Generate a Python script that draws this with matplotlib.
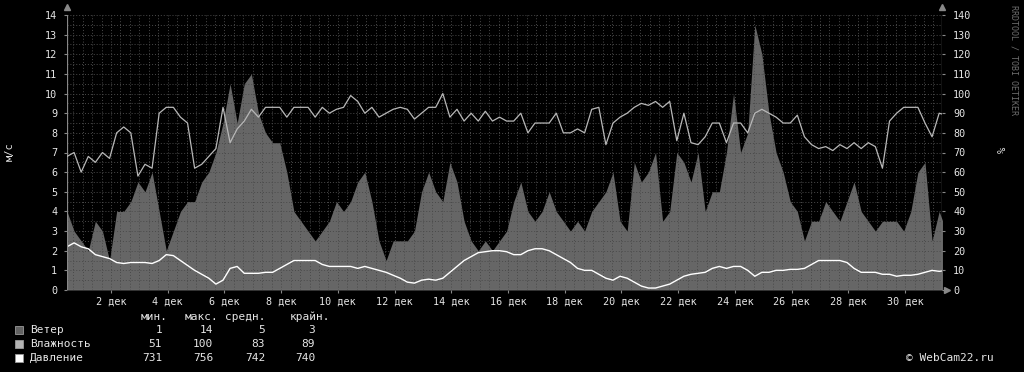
import numpy as np
import matplotlib.pyplot as plt
from matplotlib.ticker import MultipleLocator, FixedLocator
from matplotlib.patches import Rectangle

# time axis: days of December, one sample every 6 hours
start_day = 0.45
step_days = 0.25

# wind, m/s
wind = [4, 3, 2.5, 2, 3.5, 3, 1.5, 4, 4, 4.5,
        5.5, 5, 6, 4, 2, 3, 4, 4.5, 4.5, 5.5,
        6, 7, 8.5, 10.5, 8.5, 10.5, 11, 9, 8, 7.5,
        7.5, 6, 4, 3.5, 3, 2.5, 3, 3.5, 4.5, 4,
        4.5, 5.5, 6, 4.5, 2.5, 1.5, 2.5, 2.5, 2.5, 3,
        5, 6, 5, 4.5, 6.5, 5.5, 3.5, 2.5, 2, 2.5,
        2, 2.5, 3, 4.5, 5.5, 4, 3.5, 4, 5, 4,
        3.5, 3, 3.5, 3, 4, 4.5, 5, 6, 3.5, 3,
        6.5, 5.5, 6, 7, 3.5, 4, 7, 6.5, 5.5, 7,
        4, 5, 5, 7, 10, 7, 8, 13.5, 12, 9,
        7, 6, 4.5, 4, 2.5, 3.5, 3.5, 4.5, 4, 3.5,
        4.5, 5.5, 4, 3.5, 3, 3.5, 3.5, 3.5, 3, 4,
        6, 6.5, 2.5, 4, 3]

# relative humidity, %
humidity = [68, 70, 60, 68, 65, 70, 67, 80, 83, 80,
            58, 64, 62, 90, 93, 93, 88, 85, 62, 64,
            68, 72, 93, 75, 82, 86, 92, 88, 93, 93,
            93, 88, 93, 93, 93, 88, 93, 90, 92, 93,
            99, 96, 90, 93, 88, 90, 92, 93, 92, 87,
            90, 93, 93, 100, 88, 92, 86, 90, 86, 91,
            86, 88, 86, 86, 90, 80, 85, 85, 85, 90,
            80, 80, 82, 80, 92, 93, 74, 85, 88, 90,
            93, 95, 94, 96, 93, 96, 76, 90, 75, 74,
            78, 85, 85, 75, 85, 85, 80, 90, 92, 90,
            88, 85, 85, 89, 78, 74, 72, 73, 71, 74,
            72, 75, 72, 75, 73, 62, 86, 90, 93, 93,
            93, 85, 78, 90, 89]

# pressure, mm Hg
pressure = [752, 754, 752, 751, 748, 747, 746, 744, 743.5, 744,
            744, 744, 743.5, 745, 748, 747.5, 745, 742.5, 740, 738,
            736, 733, 735, 741, 742, 738.5, 738.5, 738.5, 739, 739,
            741, 743, 745, 745, 745, 745, 743, 742, 742, 742,
            742, 741, 742, 741, 740, 739, 737.5, 736, 734, 733.5,
            735, 735.5, 735, 736, 739, 742, 745, 747, 749, 749.5,
            750, 750, 749.5, 748, 748, 750, 751, 751, 750, 748,
            746, 744, 741, 740, 740, 738, 736, 735, 737, 736,
            734, 732, 731, 731, 732, 733, 735, 737, 738, 738.5,
            739, 741, 742, 741, 742, 742, 740, 737, 739, 739,
            740, 740, 740.5, 740.5, 741, 743, 745, 745, 745, 745,
            744, 741, 739, 739, 739, 738, 738, 737, 737.5, 737.5,
            738, 739, 740, 739.5, 740]

x_labels = [f"{d} дек" for d in range(2, 31, 2)]

legend_names = ["Ветер", "Влажность", "Давление"]
legend_colors = ["#626262", "#b4b4b4", "#ffffff"]
legend_header = ["мин.", "макс.", "средн.", "крайн."]
legend_values = [["1", "14", "5", "3"],
                 ["51", "100", "83", "89"],
                 ["731", "756", "742", "740"]]

W, H = 1024, 372
mono = "DejaVu Sans Mono"
plt.rcParams['font.family'] = mono

days = start_day + step_days * np.arange(len(wind))

fig = plt.figure(figsize=(W / 100, H / 100), dpi=100, facecolor="black")
ax = fig.add_axes([67 / W, 82 / H, 875 / W, 275 / H])
ax.set_facecolor("black")
ax.set_xlim(0.45, 31.3)
ax.set_ylim(0, 14)

ax.fill_between(days, wind, color="#666666", lw=0, zorder=1)

# grid on top of the area
ax.set_axisbelow(False)
ax.yaxis.set_major_locator(MultipleLocator(1))
ax.yaxis.set_minor_locator(MultipleLocator(0.5))
ax.xaxis.set_major_locator(FixedLocator(list(range(2, 31, 2))))
ax.xaxis.set_minor_locator(MultipleLocator(1 / 3))
ax.grid(which="both", color="#4a4a4a", linestyle=(0, (1, 2)), lw=0.7)
ax.set_xticklabels(x_labels)

ax2 = ax.twinx()
ax2.set_ylim(0, 140)
ax2.yaxis.set_major_locator(MultipleLocator(10))
ax2.plot(days, humidity, color="#b8b8b8", lw=0.9, zorder=3)
ax.plot(days, [(p - 730) / 10 for p in pressure], color="white", lw=1.0, zorder=4)

for a in (ax, ax2):
    for s in a.spines.values():
        s.set_visible(False)
    a.tick_params(colors="#888888", labelcolor="#e6e6e6", labelsize=7.3,
                  length=2, width=0.8, which="major")
    a.tick_params(which="minor", length=0)
ax.tick_params(axis="y", pad=5)
ax.tick_params(axis="x", pad=3)
ax2.tick_params(axis="y", pad=6)

# axis lines with arrowheads
ax.axvline(ax.get_xlim()[0], color="#888888", lw=0.9, zorder=5)
ax.axvline(ax.get_xlim()[1], color="#888888", lw=0.9, zorder=5)
ax.axhline(0, color="#888888", lw=0.9, zorder=5)
ax.plot([0, 1], [1.03, 1.03], marker="^", ms=4, ls="none", color="#888888",
        transform=ax.transAxes, clip_on=False)
ax.plot([1.006], [0], marker=">", ms=4, ls="none", color="#888888",
        transform=ax.transAxes, clip_on=False)

fig.text(10 / W, 1 - 152 / H, "м/с", rotation=90, color="#e6e6e6",
         fontsize=7.5, ha="center", va="center")
fig.text(1003 / W, 1 - 150 / H, "%", rotation=90, color="#e6e6e6",
         fontsize=7.5, ha="center", va="center")
fig.text(1014 / W, 1 - 5 / H, "RRDTOOL / TOBI OETIKER", rotation=270,
         color="#6e6e6e", fontsize=6, ha="center", va="top")

# legend
header_right = [168, 218, 265, 330]
value_right = [162, 213, 265, 315]
for txt, xr in zip(legend_header, header_right):
    fig.text(xr / W, 1 - 317 / H, txt, color="#e6e6e6", fontsize=8,
             ha="right", va="center")
for row, (name, col, vals) in enumerate(zip(legend_names, legend_colors, legend_values)):
    yc = 330 + row * 14.2
    fig.patches.append(Rectangle((15 / W, 1 - (yc + 4) / H), 8 / W, 8 / H,
                                 transform=fig.transFigure, facecolor=col,
                                 edgecolor="#9a9a9a", lw=0.6))
    fig.text(30 / W, 1 - yc / H, name, color="#e6e6e6", fontsize=8,
             ha="left", va="center")
    for v, xr in zip(vals, value_right):
        fig.text(xr / W, 1 - yc / H, v, color="#e6e6e6", fontsize=8,
                 ha="right", va="center")

fig.text(994 / W, 1 - 358 / H, "© WebCam22.ru", color="#e6e6e6", fontsize=8,
         ha="right", va="center")

fig.savefig("out.png", dpi=100, facecolor="black")
